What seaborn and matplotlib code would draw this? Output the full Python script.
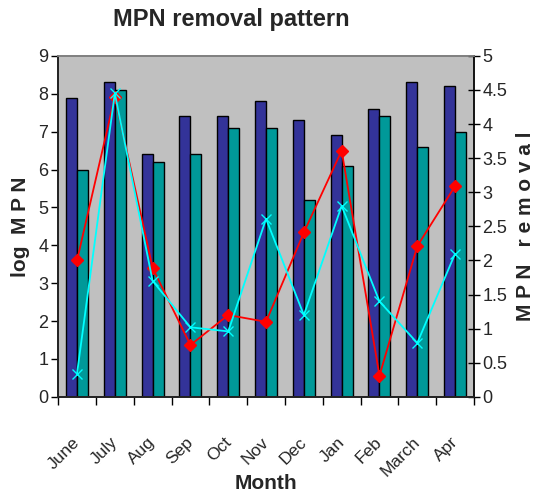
import matplotlib
matplotlib.use("Agg")
import matplotlib.pyplot as plt
import seaborn as sns
import pandas as pd
from matplotlib import font_manager as fm

months = ["June", "July", "Aug", "Sep", "Oct", "Nov", "Dec", "Jan", "Feb", "March", "Apr"]
log_mpn_a = [7.9, 8.3, 6.4, 7.4, 7.4, 7.8, 7.3, 6.9, 7.6, 8.3, 8.2]
log_mpn_b = [6.0, 8.1, 6.2, 6.4, 7.1, 7.1, 5.2, 6.1, 7.4, 6.6, 7.0]
removal_red = [2.0, 4.40, 1.89, 0.76, 1.20, 1.10, 2.41, 3.61, 0.31, 2.21, 3.09]
removal_cyan = [0.34, 4.45, 1.70, 1.02, 0.96, 2.61, 1.20, 2.80, 1.40, 0.79, 2.10]

sns.set_theme(style="white")
names = {f.name for f in fm.fontManager.ttflist}
fam = ["Liberation Sans Narrow"] if "Liberation Sans Narrow" in names else ["Liberation Sans"]
plt.rcParams["font.family"] = fam + ["DejaVu Sans"]

df = pd.DataFrame({
    "Month": months * 2,
    "value": log_mpn_a + log_mpn_b,
    "series": ["A"] * len(months) + ["B"] * len(months),
})

fig = plt.figure(figsize=(5.38, 5.03), dpi=100)
ax = fig.add_axes([0.108, 0.211, 0.773, 0.678])
ax.set_facecolor("#C0C0C0")

sns.barplot(data=df, x="Month", y="value", hue="series", order=months,
            palette=["#333399", "#009999"], edgecolor="black", linewidth=1.0,
            width=0.58, ax=ax, legend=False, saturation=1)

ax.set_xlim(-0.5, len(months) - 0.5)
ax.set_ylim(0, 9)
ax.set_yticks(range(0, 10))
ax.set_xticks([i - 0.5 for i in range(len(months) + 1)], minor=False)
ax.set_xticklabels([])
for i, m in enumerate(months):
    ax.text(i + 0.15, -1.0, m, rotation=45, ha="right", va="top",
            fontsize=12.5, transform=ax.transData)
ax.tick_params(axis="x", direction="out", length=6, width=1, color="black", bottom=True)
ax.tick_params(axis="y", direction="out", length=5, width=1, color="black", left=True,
               labelsize=13, pad=2)
ax.set_xlabel("Month", fontsize=15, fontweight="bold", labelpad=46)
ax.set_ylabel("log  M P N", fontsize=15, fontweight="bold", labelpad=6)
for s in ["left", "bottom"]:
    ax.spines[s].set_color("black")
    ax.spines[s].set_linewidth(1.2)
ax.spines["top"].set_color("#808080")
ax.spines["right"].set_color("#808080")

ax2 = ax.twinx()
sns.pointplot(x=months, y=removal_red, ax=ax2, color="#FF0000", markers="D",
              markersize=6, linewidth=1.3)
sns.pointplot(x=months, y=removal_cyan, ax=ax2, color="#00FFFF", markers="x",
              markersize=7, linewidth=1.3)
ax2.set_xlim(-0.5, len(months) - 0.5)
ax2.set_ylim(0, 5)
ax2.set_yticks([0, 0.5, 1, 1.5, 2, 2.5, 3, 3.5, 4, 4.5, 5])
ax2.set_yticklabels(["0", "0.5", "1", "1.5", "2", "2.5", "3", "3.5", "4", "4.5", "5"])
ax2.tick_params(axis="y", direction="inout", length=8, width=1, color="black", right=True,
                labelsize=13, pad=2)
ax2.set_ylabel("M P N   r e m o v a l", fontsize=15, fontweight="bold", labelpad=6)
ax2.spines["right"].set_color("black")
ax2.spines["right"].set_linewidth(1.2)
ax2.spines["top"].set_color("#808080")
ax2.set_xlabel("")
ax2.set_xticks([i - 0.5 for i in range(len(months) + 1)])
ax2.set_xticklabels([])
ax2.grid(False)
ax.grid(False)

fig.suptitle("MPN removal pattern", fontsize=17, fontweight="bold", x=0.43, y=0.985)
fig.savefig("out.png", dpi=100)
